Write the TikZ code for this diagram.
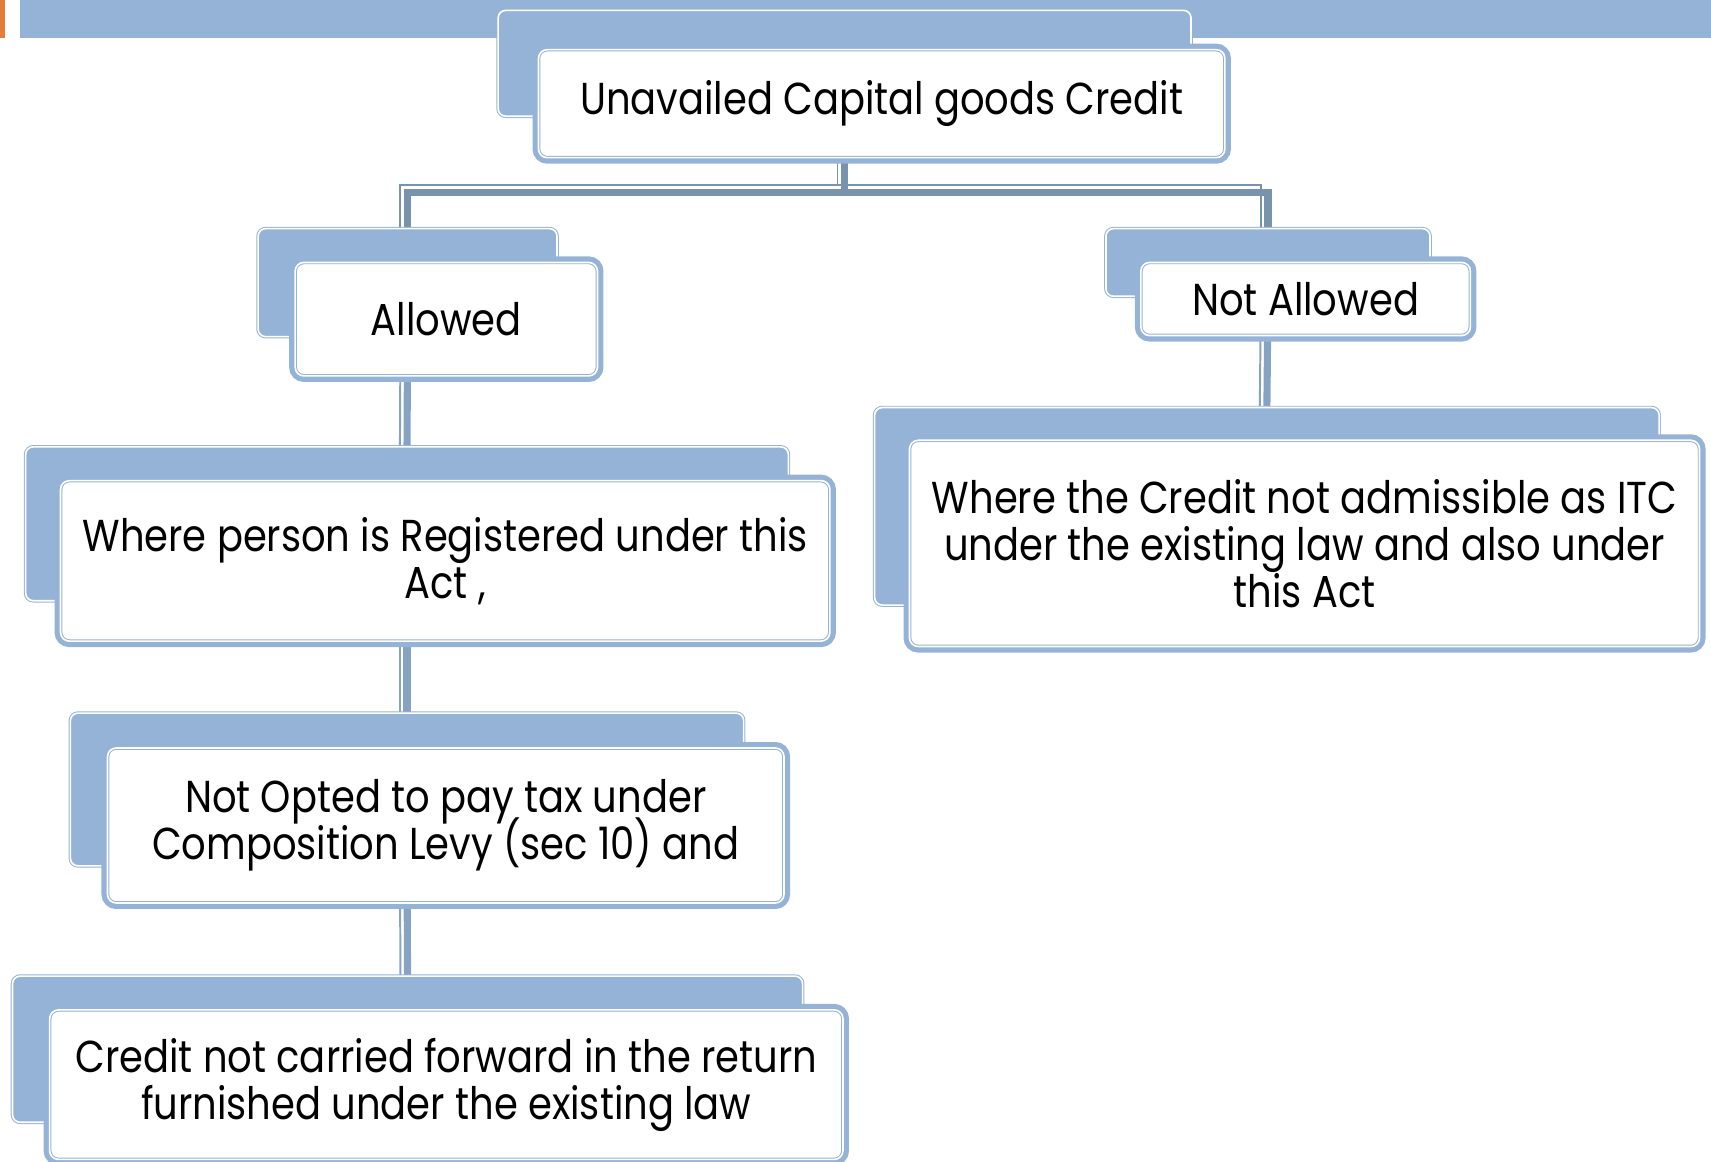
\documentclass[tikz,border=0pt]{standalone}
\usepackage{fontspec}
\setmainfont{Poppins}[FakeStretch=0.86]
\usetikzlibrary{backgrounds}
\definecolor{sb}{HTML}{95B3D7}
\definecolor{barorange}{HTML}{E37D3E}
\definecolor{connv}{HTML}{86A4C2}
\definecolor{connh}{HTML}{7A93AD}
\newcommand{\boxtextfont}{\fontsize{41}{43}\selectfont\setlength{\lineskiplimit}{-30pt}}
\tikzset{
  backbox/.style={rectangle, rounded corners=7pt, fill=sb, draw=sb,
    line width=0.9pt, double=white, double distance=1.5pt, outer sep=0pt},
  frontbox/.style={rectangle, rounded corners=8pt, fill=white,
    preaction={draw=sb, line width=11pt},
    draw=sb, line width=0.9pt, double=white, double distance=1.5pt,
    outer sep=0pt, align=center, text=black, inner sep=0pt,
    font=\boxtextfont},
  conmain/.style={draw=connv, line width=6.5pt},
  conthin/.style={draw=connv, line width=1.8pt},
}
\begin{document}
\begin{tikzpicture}[x=1pt,y=-1pt]
\useasboundingbox (0,0) rectangle (1568,1064);

% title bar across the top
\fill[barorange] (0,0) rectangle (5,35);
\fill[sb] (18,0) rectangle (1568,35);

% root
\node[backbox, minimum width=635pt, minimum height=97pt] (topBack) at (774,58) {};
\node[frontbox, minimum width=629pt, minimum height=99pt] (topFront) at (808,95)
  {Unavailed Capital goods Credit};

% left branch
\node[backbox, minimum width=274pt, minimum height=99pt] (allowBack) at (373.5,259) {};
\node[frontbox, minimum width=277pt, minimum height=104pt] (allowFront) at (409,292.5)
  {Allowed};

\node[backbox, minimum width=699pt, minimum height=141pt] (regBack) at (373,480) {};
\node[frontbox, minimum width=705pt, minimum height=147pt] (regFront) at (408,514)
  {Where person is Registered under this\\Act ,};

\node[backbox, minimum width=617pt, minimum height=140pt] (optBack) at (373,723.5) {};
\node[frontbox, minimum width=620pt, minimum height=142pt] (optFront) at (408.5,756.5)
  {Not Opted to pay tax under\\Composition Levy (sec 10) and};

\node[backbox, minimum width=724pt, minimum height=134pt] (cfBack) at (373.5,961.5) {};
\node[frontbox, minimum width=727pt, minimum height=137pt] (cfFront) at (409,994)
  {Credit not carried forward in the return\\furnished under the existing law};

% right branch
\node[backbox, minimum width=297pt, minimum height=62pt] (naBack) at (1162,240.5) {};
\node[frontbox, minimum width=302pt, minimum height=67pt] (naFront) at (1196.5,274)
  {Not Allowed};

\node[backbox, minimum width=719pt, minimum height=181pt] (itcBack) at (1161,464) {};
\node[frontbox, minimum width=724pt, minimum height=189pt] (itcFront) at (1195.5,498)
  {Where the Credit not admissible as ITC\\under the existing law and also under\\this Act};

\coordinate (split) at (774,176);

% connectors, kept behind the boxes
\begin{scope}[on background layer]
  \draw[conmain, draw=connh] (topBack |- topFront.south) -- (split) -| (allowBack.north);
  \draw[conmain, draw=connh] (split) -| (naBack.north);
  \draw[conthin, draw=connh, transform canvas={xshift=-6.5pt, yshift=6.5pt}]
    (topBack |- topFront.south) -- (split) -| ([yshift=-6.5pt]allowBack.north);
  \draw[conthin, draw=connh, transform canvas={xshift=-6.5pt, yshift=6.5pt}]
    (split) -| ([yshift=-6.5pt]naBack.north);

  \foreach \a/\b in {allowBack/regBack, regBack/optBack, optBack/cfBack, naBack/itcBack}{
    \draw[conmain] (\a |- \a.south) -- (\b.north);
    \draw[conthin, transform canvas={xshift=-6.5pt}] (\a |- \a.south) -- (\b.north);
  }
\end{scope}
\end{tikzpicture}
\end{document}
